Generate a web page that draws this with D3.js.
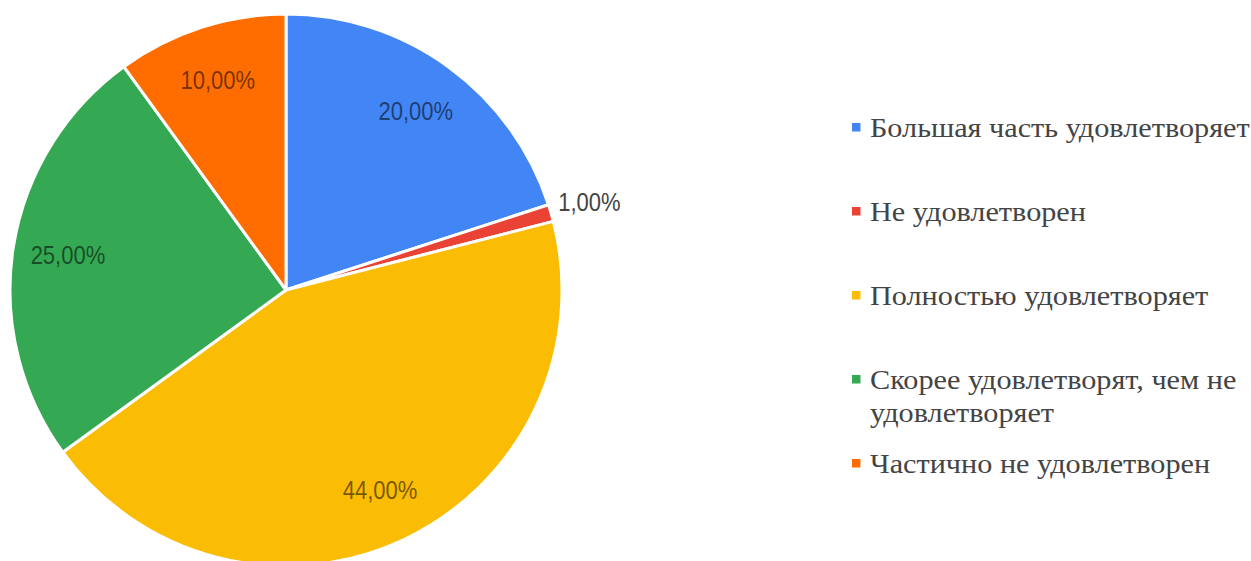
<!DOCTYPE html>
<html>
<head>
<meta charset="utf-8">
<script src="https://cdn.jsdelivr.net/npm/d3@7"></script>
<style>
  body { margin: 0; background: #fff; }
  svg { display: block; }
</style>
</head>
<body>
<svg id="chart" width="1251" height="561"></svg>
<script>
// data
var categories = [
    "Большая часть удовлетворяет",
    "Не удовлетворен",
    "Полностью удовлетворяет",
    "Скорее удовлетворят, чем не удовлетворяет",
    "Частично не удовлетворен"
];
var values = [20, 1, 44, 25, 10];
var labels = ["20,00%", "1,00%", "44,00%", "25,00%", "10,00%"];
var colors = ["#4285f4", "#ea4335", "#fbbc04", "#34a853", "#ff6d01"];
// legend lines (wrapped text)
var legendLines = [
    ["Большая часть удовлетворяет"],
    ["Не удовлетворен"],
    ["Полностью удовлетворяет"],
    ["Скорее удовлетворят, чем не", "удовлетворяет"],
    ["Частично не удовлетворен"]
];

function drawPie() {
    var cx = 286, cy = 290, radius = 276;

    var svg = d3.select("#chart");

    var pie = d3.pie()
        .sort(null)
        .value(function(d) { return d; });

    var arc = d3.arc()
        .innerRadius(0)
        .outerRadius(radius);

    var labelArc = d3.arc()
        .innerRadius(radius * 0.8)
        .outerRadius(radius * 0.8);

    var outerArc = d3.arc()
        .innerRadius(radius + 40)
        .outerRadius(radius + 40);

    var color = d3.scaleOrdinal()
        .domain(categories)
        .range(colors);

    var g = svg.append("g")
        .attr("transform", "translate(" + cx + "," + cy + ")");

    var arcs = pie(values);
    var small = function(d) { return (d.endAngle - d.startAngle) < 0.2; };

    g.selectAll(".slice")
            .data(arcs)
        .enter().append("path")
            .attr("class", "slice")
            .attr("d", arc)
            .attr("fill", function(d, i) { return color(categories[i]); })
            .attr("stroke", "#fff")
            .attr("stroke-width", 3)
            .attr("stroke-linejoin", "round");

    // percent labels; the tiny slice gets its label outside
    g.selectAll(".lbl")
            .data(arcs)
        .enter().append("text")
            .attr("class", "lbl")
            .attr("transform", function(d) {
                var p = small(d) ? outerArc.centroid(d) : labelArc.centroid(d);
                return "translate(" + p + ") scale(0.88,1)";
            })
            .attr("dy", "0.36em")
            .style("text-anchor", "middle")
            .style("font-family", "'Liberation Sans', Arial, sans-serif")
            .style("font-size", "25px")
            .style("fill", function(d) { return small(d) ? "#444" : "rgba(0,0,0,0.55)"; })
            .text(function(d, i) { return labels[i]; });

    // legend
    var legend = svg.append("g")
        .attr("transform", "translate(852,137)");

    var item = legend.selectAll(".item")
            .data(categories)
        .enter().append("g")
            .attr("class", "item")
            .attr("transform", function(d, i) { return "translate(0," + (i * 84) + ")"; });

    item.append("rect")
        .attr("x", 0)
        .attr("y", -14)
        .attr("width", 8.5)
        .attr("height", 8.5)
        .attr("fill", function(d) { return color(d); });

    item.append("text")
        .attr("transform", "translate(18,0) scale(1.08,1)")
        .style("font-family", "'Liberation Serif', 'Times New Roman', serif")
        .style("font-size", "28px")
        .style("fill", "#444")
        .selectAll("tspan")
            .data(function(d, i) { return legendLines[i]; })
        .enter().append("tspan")
            .attr("x", 0)
            .attr("dy", function(d, j) { return j === 0 ? 0 : 33; })
            .text(function(d) { return d; });
}

drawPie();
</script>
</body>
</html>
